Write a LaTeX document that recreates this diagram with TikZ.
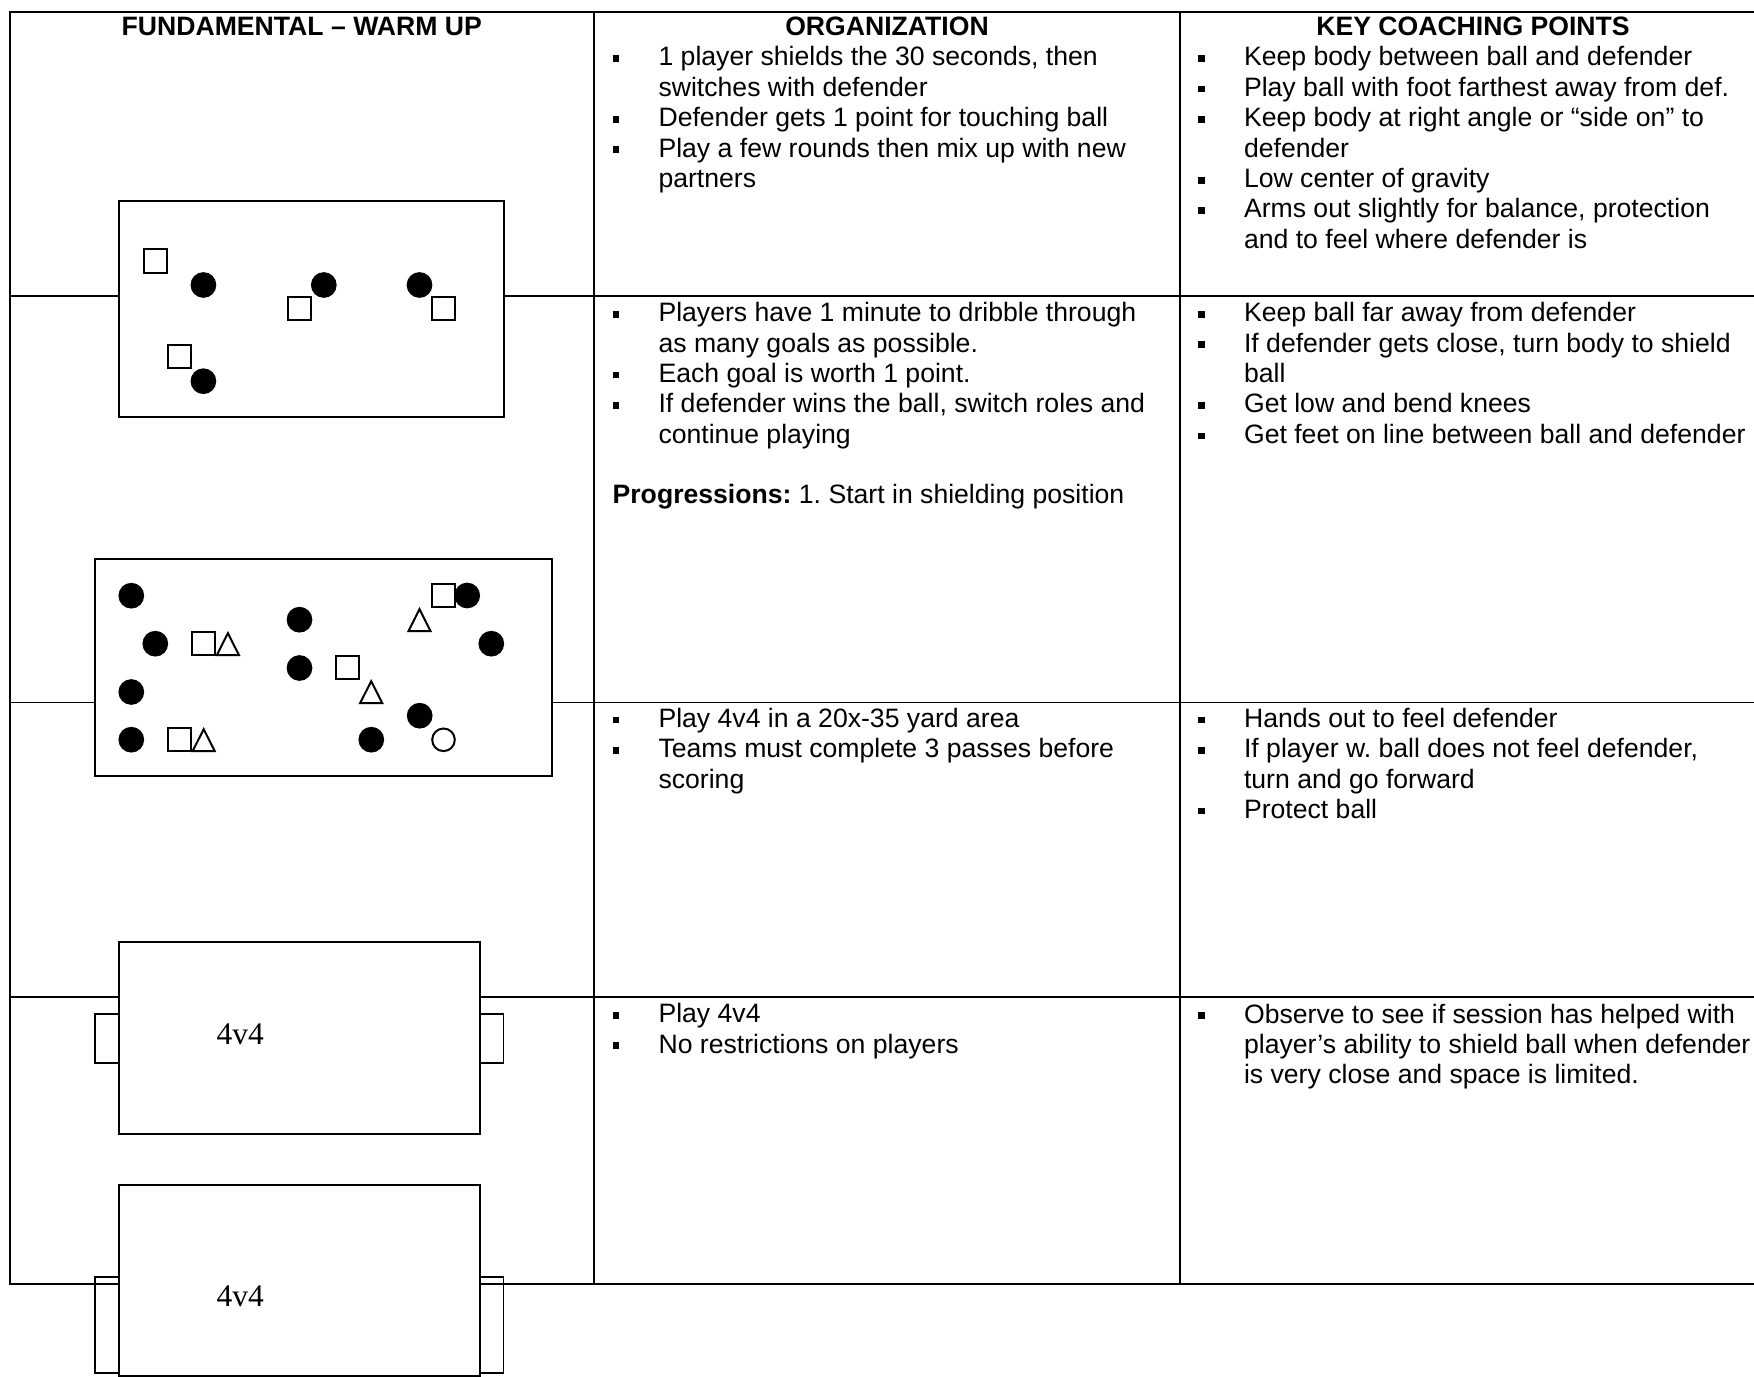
\documentclass[tikz,border=0pt]{standalone}
\usepackage{fontspec}
\setmainfont{Liberation Sans}
\newfontfamily\fieldfont{Liberation Serif}
\usepackage{tikz}
\usetikzlibrary{positioning}
\frenchspacing
\newcommand{\bodyfont}{\fontsize{12}{13.7}\selectfont}
\newcommand{\bul}{\makebox[20.7pt][l]{\rule[1.8pt]{2.9pt}{3pt}}}
\newcommand{\ind}{\hspace*{20.7pt}}
\newcommand{\li}[1]{\hbox{\bul#1}}
\newcommand{\lc}[1]{\hbox{\ind#1}}
\tikzset{
  tline/.style={line width=0.9pt},
  field/.style={draw, fill=white, line width=0.9pt},
  goal/.style={draw, line width=0.8pt},
  plyr/.style={circle, fill, inner sep=0pt, minimum size=11.6pt},
  sqr/.style={draw, rectangle, inner sep=0pt, minimum size=10.4pt, line width=0.9pt},
  ring/.style={draw, circle, inner sep=0pt, minimum size=10.2pt, line width=0.9pt},
  head/.style={anchor=base, inner sep=0pt, font=\bodyfont\bfseries},
  cell/.style={anchor=base west, inner sep=0pt},
  lbl/.style={anchor=base west, inner sep=0pt, font=\fieldfont\fontsize{14.2}{16}\selectfont},
  tri/.pic={
      \draw[line width=0.9pt] (-11.1,11) -- (11.1,11) -- (0,-11) -- cycle;
    }
}
\begin{document}
\begin{tikzpicture}[x=0.451pt, y=-0.451pt, font=\bodyfont]
\useasboundingbox (0,0) rectangle (1754,1377);
\clip (0,0) rectangle (1754,1377);
% the table
\draw[tline] (9.6,12) rectangle (1766,1284);
\foreach \y in {296,702.5,997}
  \draw[tline] (9.6,\y) -- (1766,\y);
\foreach \x in {594,1180}
  \draw[tline] (\x,12) -- (\x,1284);

% the headers
\node[head] (h1) at (301.8,36) {FUNDAMENTAL – WARM UP};
\node[head] (h2) at (887,36) {ORGANIZATION};
\node[head] (h3) at (1473,36) {KEY COACHING POINTS};

% the cells
\node[cell] (o1) at (612.2,66) {\vtop{
  \li{1 player shields the 30 seconds, then}
  \lc{switches with defender}
  \li{Defender gets 1 point for touching ball}
  \li{Play a few rounds then mix up with new}
  \lc{partners}}};
\node[cell] (k1) at (1197.7,66) {\vtop{
  \li{Keep body between ball and defender}
  \li{Play ball with foot farthest away from def.}
  \li{Keep body at right angle or “side on” to}
  \lc{defender}
  \li{Low center of gravity}
  \li{Arms out slightly for balance, protection}
  \lc{and to feel where defender is}}};
\node[cell] (o2) at (612.2,321.7) {\vtop{
  \li{Players have 1 minute to dribble through}
  \lc{as many goals as possible.}
  \li{Each goal is worth 1 point.}
  \li{If defender wins the ball, switch roles and}
  \lc{continue playing}
  \hbox{}
  \hbox{\textbf{Progressions:} 1. Start in shielding position}}};
\node[cell] (k2) at (1197.7,321.7) {\vtop{
  \li{Keep ball far away from defender}
  \li{If defender gets close, turn body to shield}
  \lc{ball}
  \li{Get low and bend knees}
  \li{Get feet on line between ball and defender}}};
\node[cell] (o3) at (612.2,727.3) {\vtop{
  \li{Play 4v4 in a 20x-35 yard area}
  \li{Teams must complete 3 passes before}
  \lc{scoring}}};
\node[cell] (k3) at (1197.7,727.3) {\vtop{
  \li{Hands out to feel defender}
  \li{If player w. ball does not feel defender,}
  \lc{turn and go forward}
  \li{Protect ball}}};
\node[cell] (o4) at (612.2,1022.7) {\vtop{
  \li{Play 4v4}
  \li{No restrictions on players}}};
\node[cell] (k4) at (1197.7,1023) {\vtop{
  \li{Observe to see if session has helped with}
  \lc{player’s ability to shield ball when defender}
  \lc{is very close and space is limited.}}};

% the fields
\draw[field] (119.4,201) rectangle (503.6,416.7);
\draw[field] (95,559.3) rectangle (551.7,776);
\draw[goal] (95.3,1014.3) rectangle (119.4,1062.7);
\draw[goal] (479.5,1014.3) rectangle (503.6,1062.7);
\draw[field] (119.4,942.3) rectangle (479.5,1134.3);
\draw[goal] (95.3,1276.7) rectangle (119.4,1373);
\draw[goal] (479.5,1276.7) rectangle (503.6,1373);
\draw[field] (119.4,1185) rectangle (479.5,1375.7);
\node[lbl] (g3) at (216.2,1044) {4v4};
\node[lbl] (g4) at (216.2,1306.7) {4v4};

% the players, shielding
\foreach \x/\y [count=\i] in {155.4/261, 299.3/308.8, 443.4/308.8, 179.3/356.8}
  \node[sqr] (a\i) at (\x,\y) {};
\foreach \x/\y [count=\i] in {203.4/285, 323.8/285, 419.5/285, 203.4/381.2}
  \node[plyr] (b\i) at (\x,\y) {};

% the players, dribbling
\foreach \x/\y [count=\i] in {203.3/643.7, 179.2/739.7, 347.5/667.7, 443.5/595.7}
  \node[sqr] (c\i) at (\x,\y) {};
\foreach \x/\y [count=\i] in {227.9/644.2, 203.7/740.2, 371.2/692.2, 419.5/620.2}
  \pic (t\i) at (\x,\y) {tri};
\foreach \x/\y [count=\i] in {131.3/595.7, 155.3/643.7, 131.3/692, 131.3/739.7,
    299.5/619.7, 299.5/668, 467.2/595.5, 491.3/643.7, 419.7/715.7, 371.3/739.7}
  \node[plyr] (d\i) at (\x,\y) {};
\node[ring] (e1) at (443.5,739.8) {};
\end{tikzpicture}
\end{document}
